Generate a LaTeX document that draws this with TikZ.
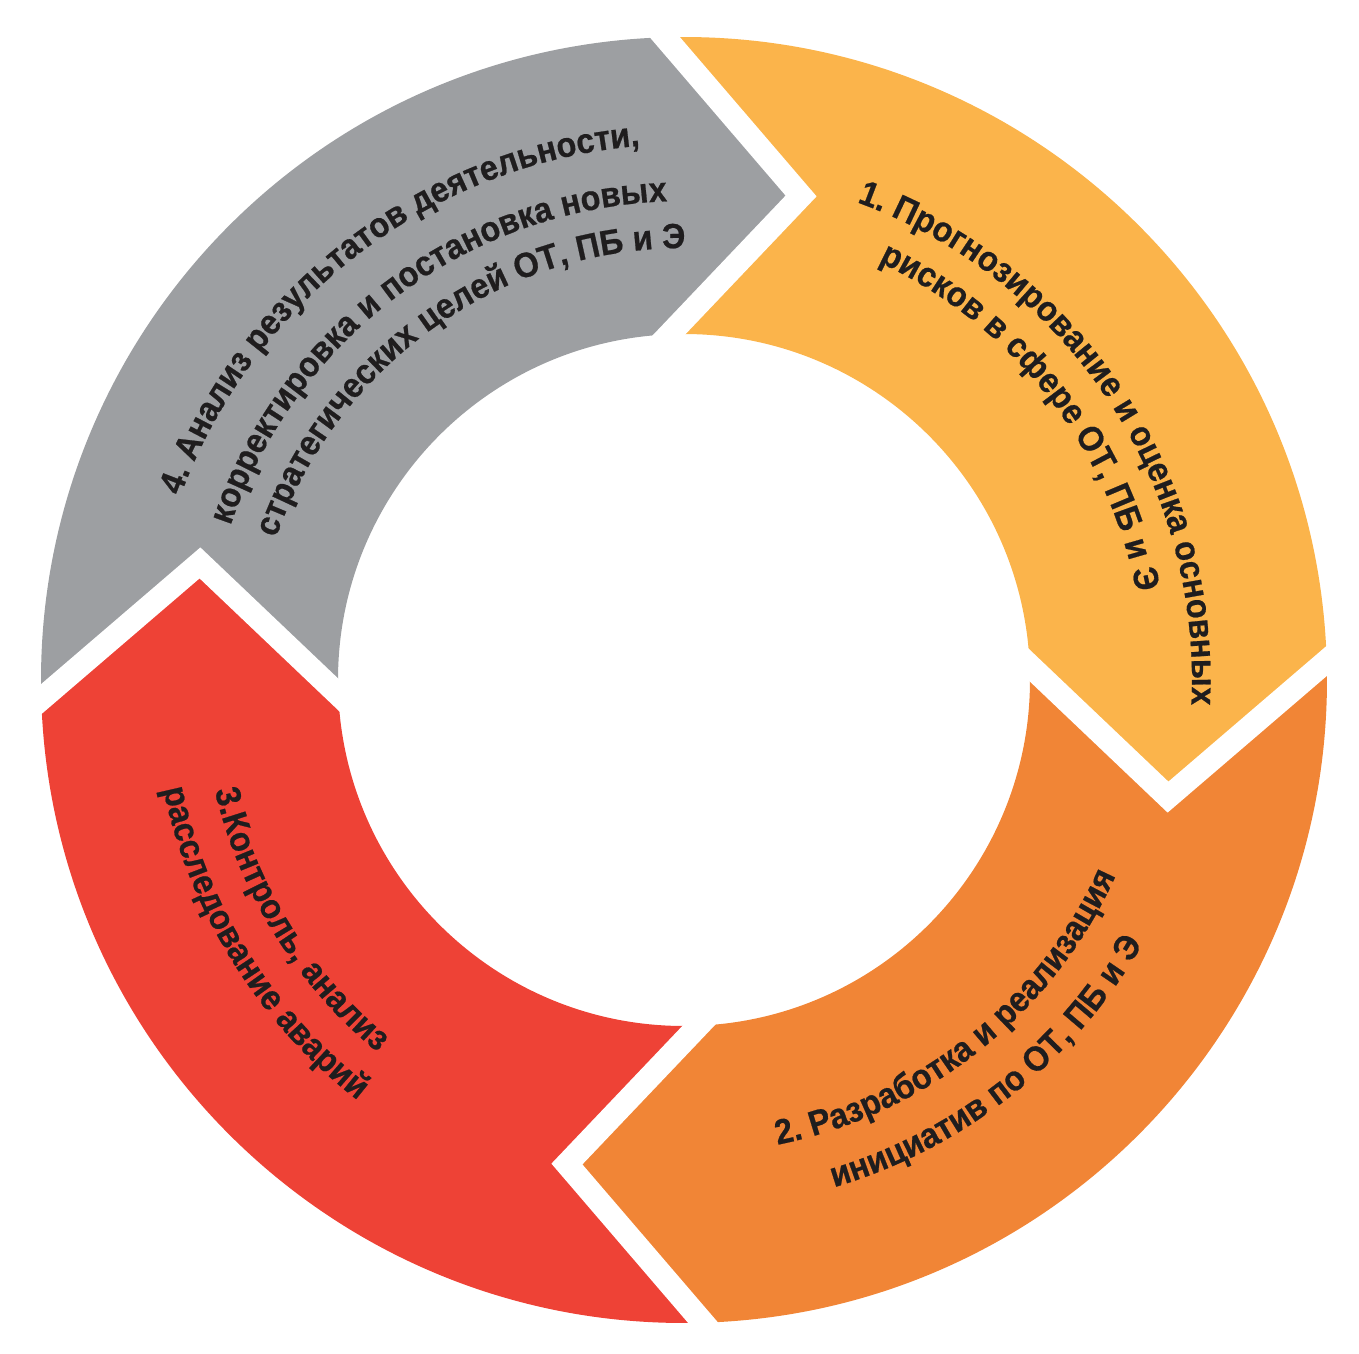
\documentclass[tikz,border=0pt]{standalone}
\usepackage{fontspec}
\setmainfont{Liberation Sans}[FakeStretch=0.93, BoldFeatures={FakeBold=0.6}]
\usetikzlibrary{calc,decorations.text}

\definecolor{stepgray}{HTML}{9D9FA2}
\definecolor{stepyellow}{HTML}{FBB44B}
\definecolor{steporange}{HTML}{F18536}
\definecolor{stepred}{HTML}{EE4236}
\definecolor{txtdark}{HTML}{1F1D1E}

\newcommand{\cyclefont}{\fontsize{35}{42}\selectfont\bfseries}

\begin{document}
\begin{tikzpicture}[
  x=1pt, y=1pt,
  gap/.style={draw=white, line width=23pt, line join=miter},
  steptext/.style={decorate, decoration={text along path, text align=center,
                   text color=txtdark, text={|\cyclefont|#1}}},
]
\useasboundingbox (-684,-673) rectangle (675,680);

% chevron joints between the steps
\coordinate (o1) at (91.7:643);  \coordinate (t1) at (76.4:498);  \coordinate (i1) at (92.4:346);
\coordinate (o2) at (1.7:643);   \coordinate (t2) at (-13.6:498); \coordinate (i2) at (2.4:346);
\coordinate (o3) at (271.7:643); \coordinate (t3) at (256.4:498); \coordinate (i3) at (272.4:346);
\coordinate (o4) at (181.7:643); \coordinate (t4) at (166.4:498); \coordinate (i4) at (182.4:346);

% the four steps
\fill[stepgray] (o4) arc[start angle=181.7, end angle=91.7, radius=643] -- (t1) -- (i1)
  arc[start angle=92.4, end angle=182.4, radius=346] -- (t4) -- cycle;
\fill[stepyellow] (o1) arc[start angle=91.7, end angle=1.7, radius=643] -- (t2) -- (i2)
  arc[start angle=2.4, end angle=92.4, radius=346] -- (t1) -- cycle;
\fill[steporange] (o2) arc[start angle=1.7, end angle=-88.3, radius=643] -- (t3) -- (i3)
  arc[start angle=-87.6, end angle=2.4, radius=346] -- (t2) -- cycle;
\fill[stepred] (o3) arc[start angle=271.7, end angle=181.7, radius=643] -- (t4) -- (i4)
  arc[start angle=182.4, end angle=272.4, radius=346] -- (t3) -- cycle;

\draw[gap] ($(t1)!1.12!(o1)$) -- (t1) -- ($(t1)!1.12!(i1)$);
\draw[gap] ($(t2)!1.12!(o2)$) -- (t2) -- ($(t2)!1.12!(i2)$);
\draw[gap] ($(t3)!1.12!(o3)$) -- (t3) -- ($(t3)!1.12!(i3)$);
\draw[gap] ($(t4)!1.12!(o4)$) -- (t4) -- ($(t4)!1.12!(i4)$);

% step texts
\path[steptext={1. Прогнозирование и оценка основных}]
  (93.65:508) arc[start angle=93.65, end angle=-26.35, radius=508];
\path[steptext={рисков в сфере ОТ, ПБ и Э}]
  (98:461) arc[start angle=98, end angle=-22, radius=461];
\path[steptext={2. Разработка и реализация}]
  (-111.5:474) arc[start angle=-111.5, end angle=8.5, radius=474];
\path[steptext={инициатив по ОТ, ПБ и Э}]
  (-111.7:529) arc[start angle=-111.7, end angle=8.3, radius=529];
\path[steptext={3.Контроль, анализ}]
  (151.9:482) arc[start angle=151.9, end angle=271.9, radius=482];
\path[steptext={расследование аварий}]
  (152:532) arc[start angle=152, end angle=272, radius=532];
\path[steptext={4. Анализ результатов деятельности,}]
  (187.3:536) arc[start angle=187.3, end angle=67.3, radius=536];
\path[steptext={корректировка и постановка новых}]
  (186.6:479) arc[start angle=186.6, end angle=66.6, radius=479];
\path[steptext={стратегических целей ОТ, ПБ и Э}]
  (185.3:432) arc[start angle=185.3, end angle=65.3, radius=432];
\end{tikzpicture}
\end{document}
